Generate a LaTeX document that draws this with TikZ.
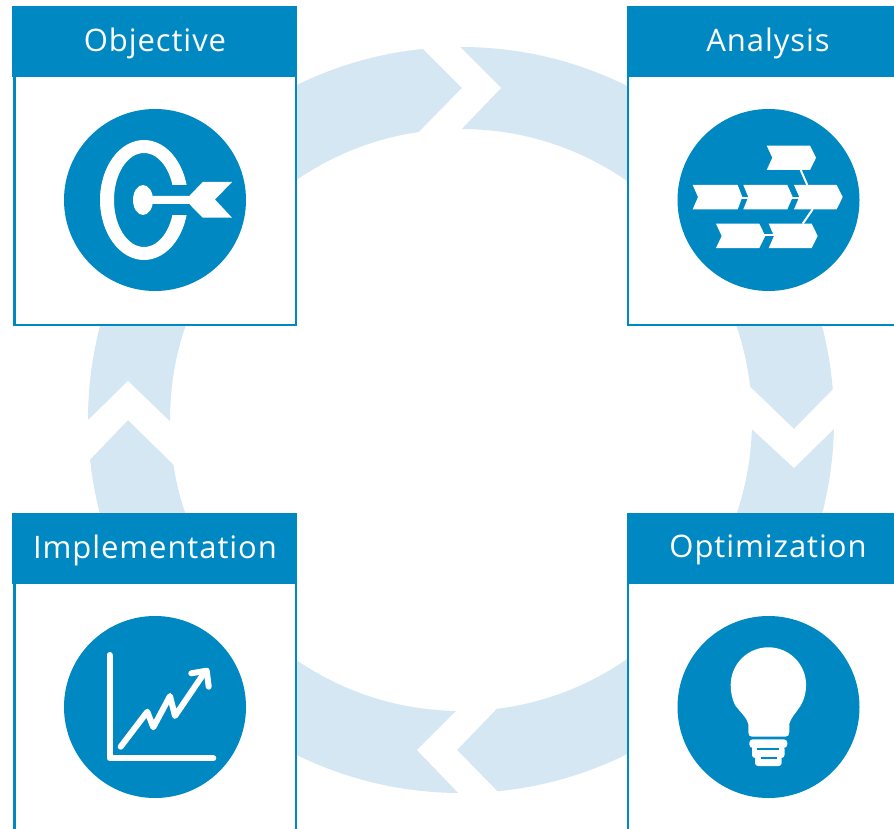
\documentclass[tikz,border=0pt]{standalone}
\usepackage{fontspec}
\setmainfont{Open Sans}[LetterSpace=3]
\definecolor{hdr}{HTML}{0088C3}
\definecolor{ringc}{HTML}{D4E7F3}
\tikzset{
  title/.style={text=white,font=\fontsize{31}{36}\selectfont,inner sep=0pt,anchor=base},
  panel/.style={draw=hdr,fill=white,line width=2.5pt},
  iconback/.style={circle,fill=hdr,draw=none,minimum size=182pt,inner sep=0pt},
  gap/.style={fill=white,draw=none},
  glyph/.style={fill=white,draw=none},
  stroke/.style={draw=white,line cap=round,line join=round},
}
\begin{document}
\begin{tikzpicture}[x=1pt,y=-1pt]
\useasboundingbox (0,0) rectangle (894,829);
% ring
\fill[ringc,even odd rule] (461,420) circle[radius=373] (461,420) circle[radius=291];
\fill[gap] (411,37) -- (462,88) -- (411,140) -- (451,140) -- (501,88) -- (450,37) -- cycle;
\fill[gap] (741,378) -- (794,429) -- (844,378) -- (844,419) -- (794,468) -- (741,419) -- cycle;
\fill[gap] (467,700) -- (417,750) -- (467,802) -- (507,801) -- (457,750) -- (507,698) -- cycle;
\fill[gap] (78,430) -- (128,381) -- (180,431) -- (184,475) -- (128,420) -- (81,469) -- cycle;
% panels
\filldraw[panel] (14.3,60) rectangle (296,325);
\filldraw[panel] (628,60) rectangle (900,325);
\filldraw[panel] (14.3,570) rectangle (296,840);
\filldraw[panel] (628,570) rectangle (900,840);
% headers
\fill[hdr] (12,6.5) rectangle (297,77);
\fill[hdr] (627,6.5) rectangle (894,77);
\fill[hdr] (12,513) rectangle (297,583.5);
\fill[hdr] (627,513) rectangle (894,583.5);
\node[title] (objective) at (155,52) {Objective};
\node[title] (analysis) at (768,52) {Analysis};
\node[title] (implementation) at (155,558.5) {Implementation};
\node[title] (optimization) at (768,557.5) {Optimization};
% icon circles
\node[iconback] (c1) at (155,200) {};
\node[iconback] (c2) at (768.5,200) {};
\node[iconback] (c3) at (155,707) {};
\node[iconback] (c4) at (768.5,707) {};
% target
\fill[glyph,even odd rule] (144,200) ellipse[x radius=44,y radius=60] (144,200) ellipse[x radius=30,y radius=47];
\fill[hdr] (160,185) rectangle (192,215);
\fill[glyph] (143,200) ellipse[x radius=10,y radius=15];
\fill[glyph] (148,196) -- (189.3,196) -- (202.7,182) -- (232,182) -- (215,199.5) -- (232,217.7) -- (202.7,217.7) -- (189.3,204) -- (148,204) -- cycle;
% analysis chevrons
\fill[glyph] (766.7,145.7) -- (810,145.7) -- (816,157.7) -- (810,170) -- (766.7,170) -- (772.3,157.7) -- cycle;
\fill[glyph] (692.7,185) -- (737.7,185) -- (742.3,197) -- (737.7,209.3) -- (692.7,209.3) -- (698,197) -- cycle;
\fill[glyph] (743.3,185) -- (787.3,185) -- (792.7,197) -- (787.3,209.3) -- (743.3,209.3) -- (748.3,197) -- cycle;
\fill[glyph] (794,185) -- (836.7,185) -- (842.7,197) -- (836.7,209.3) -- (794,209.3) -- (799.3,197) -- cycle;
\fill[glyph] (716,223.7) -- (759.3,223.7) -- (765.3,236) -- (759.3,248) -- (716,248) -- (721.7,236) -- cycle;
\fill[glyph] (768.7,223.7) -- (811.7,223.7) -- (817.7,236) -- (811.7,248) -- (768.7,248) -- (774,236) -- cycle;
\draw[white,line width=2pt] (800.7,170) -- (807.3,185);
\draw[white,line width=2pt] (812.7,209.3) -- (802.7,223.7);
\draw[white,line width=2pt] (740,197.7) -- (749,197.7);
\draw[white,line width=2pt] (790,197.7) -- (800,197.7);
\draw[white,line width=2pt] (764,235.3) -- (774,235.3);
% chart
\draw[stroke,line width=6pt] (109.5,655) -- (109.5,758.3) -- (213.3,758.3);
\draw[stroke,line width=6pt] (120.7,746.7) -- (147.3,711.7) -- (153.3,727.3) -- (170,696) -- (175,716) -- (204,673.3);
\draw[stroke,line width=6pt] (191.3,673.3) -- (206.7,670.7) -- (208.7,686.7);
% bulb
\fill[glyph] (752,736.7) .. controls (749.5,736.7) and (748.3,735) .. (748.3,732) -- (748.3,724) .. controls (747,718) and (741,713) .. (735,705) .. controls (732,699) and (730.7,692) .. (730.7,685) arc[start angle=180,end angle=360,radius=37.7] .. controls (806,692) and (804.5,699) .. (801,705) .. controls (796,713) and (790.5,718) .. (789.3,724) -- (789.3,732) .. controls (789.3,735) and (788,736.7) .. (785.5,736.7) -- cycle;
\fill[glyph,rounded corners=3.5pt] (749.3,739.3) rectangle (787.3,748);
\fill[glyph,rounded corners=3pt] (752,746) rectangle (784.5,758);
\fill[glyph,rounded corners=3pt] (755,756) rectangle (781.7,766);
\draw[hdr,line width=2pt] (757.3,748.5) -- (779.3,748.5);
\draw[hdr,line width=2pt] (760.7,757.7) -- (776.7,757.7);
\end{tikzpicture}
\end{document}
